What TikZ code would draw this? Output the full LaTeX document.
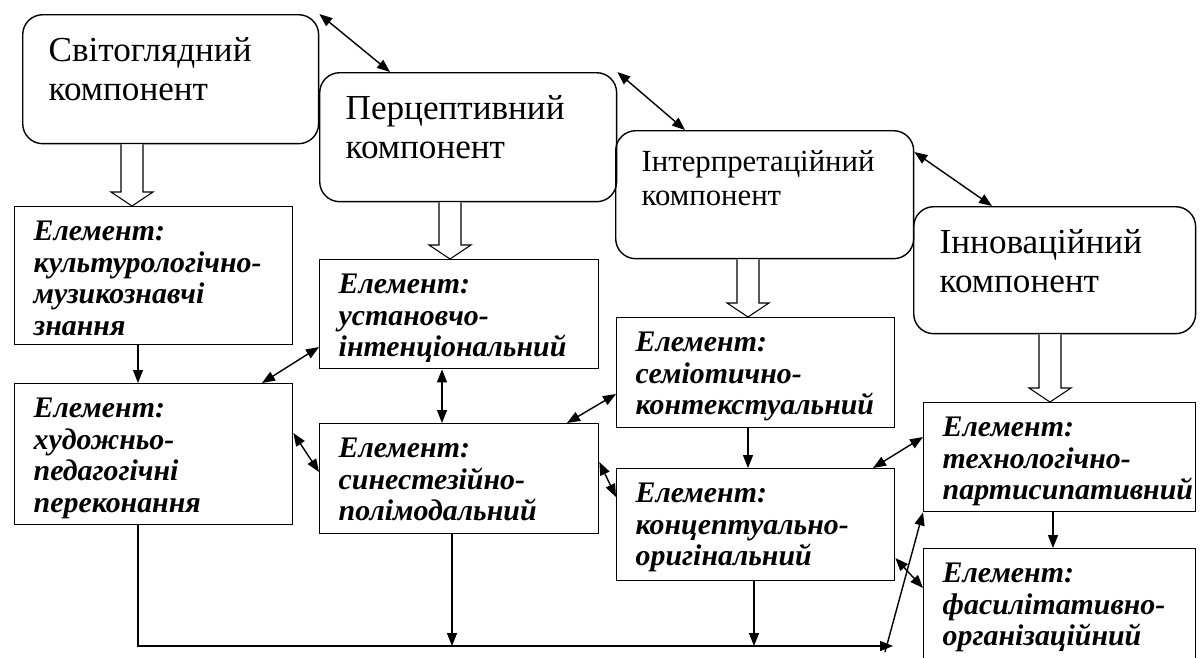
\documentclass[tikz,border=0pt]{standalone}
\usepackage{fontspec}
\setmainfont{Liberation Serif}
\usetikzlibrary{arrows.meta, calc, positioning}

% hollow block arrow: from node #1 down to node #2 at x = #3
\newcommand{\hollowarrow}[3]{%
  \coordinate (ha) at (#3,0 |- #1.south);
  \coordinate (hb) at (#3,0 |- #2.north);
  \draw[hollow] ($(ha)+(-11,0)$) -- ($(hb)+(-11,-14)$) -- ($(hb)+(-21,-14)$)
    -- (hb) -- ($(hb)+(21,-14)$) -- ($(hb)+(11,-14)$) -- ($(ha)+(11,0)$);
}

\begin{document}
\begin{tikzpicture}[
        x=0.02cm, y=-0.02cm,
        line width=0.8pt,
        comp/.style={draw, rounded corners=0.4cm, anchor=north west, align=left,
          inner xsep=0.52cm, inner ysep=0pt, text height=0.94cm,
          font=\fontsize{20}{22}\selectfont},
        elem/.style={draw, anchor=north west, align=left,
          inner xsep=0.38cm, inner ysep=0pt, text height=0.68cm,
          font=\fontsize{17}{18}\selectfont\bfseries\itshape},
        hollow/.style={draw, line width=0.6pt, fill=white},
        dbl/.style={{Triangle[length=0.26cm,width=0.2cm]}-{Triangle[length=0.26cm,width=0.2cm]}},
        one/.style={-{Triangle[length=0.26cm,width=0.2cm]}}
    ]
        \useasboundingbox (0,0) rectangle (1200,657);
        \clip (0,0) rectangle (1200,657);

        % компоненти
        \node[comp, text width=4.88cm, text depth=1.64cm] (svit) at (22,14) {Світоглядний\\компонент};
        \node[comp, text width=4.9cm, text depth=1.64cm] (percep) at (319,72) {Перцептивний\\компонент};
        \node[comp, text width=4.92cm, text height=0.82cm, text depth=1.74cm,
          font=\fontsize{17.5}{19.4}\selectfont] (interp) at (615,130) {Інтерпретаційний\\компонент};
        \node[comp, text width=4.6cm, text depth=1.6cm] (innov) at (913,206) {Інноваційний\\компонент};

        % елементи
        \node[elem, text width=4.8cm, text depth=2.08cm] (kult) at (14,206) {Елемент:\\культурологічно-\\музикознавчі\\знання};
        \node[elem, text width=4.8cm, text depth=2.14cm] (hud) at (14,383) {Елемент:\\художньо-\\педагогічні\\переконання};
        \node[elem, text width=4.82cm, text depth=1.5cm] (ustan) at (319,259) {Елемент:\\установчо-\\інтенціональний};
        \node[elem, text width=4.82cm, text depth=1.52cm] (sines) at (319,423) {Елемент:\\синестезійно-\\полімодальний};
        \node[elem, text width=4.8cm, text depth=1.52cm] (semio) at (616,317) {Елемент:\\семіотично-\\контекстуальний};
        \node[elem, text width=4.8cm, text depth=1.56cm] (konc) at (616,468) {Елемент:\\концептуально-\\оригінальний};
        \node[elem, text width=4.68cm, text depth=1.5cm] (tech) at (923,402) {Елемент:\\технологічно-\\партисипативний};
        \node[elem, text width=4.68cm, text depth=1.92cm] (fasil) at (923,548) {Елемент:\\фасилітативно-\\організаційний};

        % зв'язки між компонентами
        \draw[dbl] (svit.north east) -- (390,0 |- percep.north);
        \draw[dbl] (percep.north east) -- (685,0 |- interp.north);
        \draw[dbl] (interp.east |- 0,152) -- (992,0 |- innov.north);

        % порожнисті стрілки
        \hollowarrow{svit}{kult}{132}
        \hollowarrow{percep}{ustan}{450}
        \hollowarrow{interp}{semio}{748}
        \hollowarrow{innov}{tech}{1050}

        % зв'язки між елементами
        \draw[one] (138,0 |- kult.south) -- (138,0 |- hud.north);
        \draw[dbl] (ustan.west |- 0,347) -- (262,0 |- hud.north);
        \draw[dbl] (442,0 |- ustan.south) -- (442,0 |- sines.north);
        \draw[dbl] (hud.east |- 0,433) -- (sines.west |- 0,472);
        \draw[dbl] (567,0 |- sines.north) -- (semio.west |- 0,394);
        \draw[one] (748,0 |- semio.south) -- (748,0 |- konc.north);
        \draw[dbl] (sines.east |- 0,462) -- (konc.west |- 0,497);
        \draw[dbl] (873,0 |- konc.north) -- (tech.west |- 0,437);
        \draw[dbl] (konc.east |- 0,558) -- (fasil.west |- 0,588);
        \draw[one] (1053,0 |- tech.south) -- (1053,0 |- fasil.north);

        % нижня шина
        \coordinate (bus) at (893,646);
        \coordinate (busfoot) at (885,652);
        \draw[one] (138,0 |- hud.south) |- (bus);
        \draw[one] (452,0 |- sines.south) -- (452,0 |- bus);
        \draw[one] (754,0 |- konc.south) -- (754,0 |- bus);
        \draw[one] (busfoot) -- (tech.south west);
    \end{tikzpicture}
\end{document}
